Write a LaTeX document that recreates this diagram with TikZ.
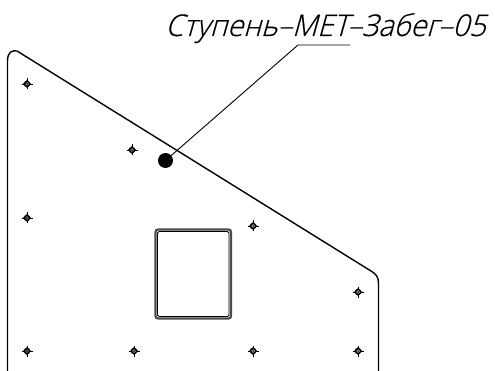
\documentclass[tikz,border=0pt]{standalone}
\usepackage{fontspec}
\newfontfamily\gost[FakeSlant=0.28,FakeBold=0.4,FakeStretch=0.97]{Open Sans Light}
\tikzset{
  px/.style={x=1pt,y=-1pt},
  edge/.style={line width=1.4pt,line join=round},
  leader/.style={line width=0.9pt},
  holemark/.pic={
    \fill (0,-4)--(4,0)--(0,4)--(-4,0)--cycle;
    \fill (0,0) circle (3.2);
    \draw[line width=0.6pt] (-5.5,0)--(5.5,0) (0,-5.5)--(0,5.5);
    \draw[white,line width=0.35pt] (0,0) circle (1.5);
  },
  labeltext/.style={inner sep=0pt,anchor=base west,font=\gost\fontsize{30}{31}\selectfont}
}
\begin{document}
\begin{tikzpicture}[px]
\useasboundingbox (0,0) rectangle (495,371);
\draw[edge] (7.5,371) -- (7.5,61) .. controls (7.5,52) and (12,50) .. (17,51) -- (371,271) .. controls (376,274) and (378.5,277) .. (378.5,283) -- (378.5,371);
\foreach \x/\y in {27/84,132/150,27/218,253/226,358/292,27/351,134/351,253/351,358/351}
  \pic at (\x,\y) {holemark};
\draw[line width=2.2pt,black!70,rounded corners=2.5pt] (155.5,229.5) rectangle (231,318.5);
\draw[line width=0.8pt,rounded corners=1.5pt] (157.5,231.5) rectangle (229,316.5);
\node[circle,fill=black,minimum size=15pt,inner sep=0pt] (dot) at (165.5,160.5) {};
\node[labeltext] (lbl) at (165,36) {Ступень–МЕТ–Забег–05};
\coordinate (ulA) at (298,45);
\coordinate (ulB) at (350,45);
\draw[leader] (dot.center) -- (ulA) -- (ulB);
\end{tikzpicture}
\end{document}
